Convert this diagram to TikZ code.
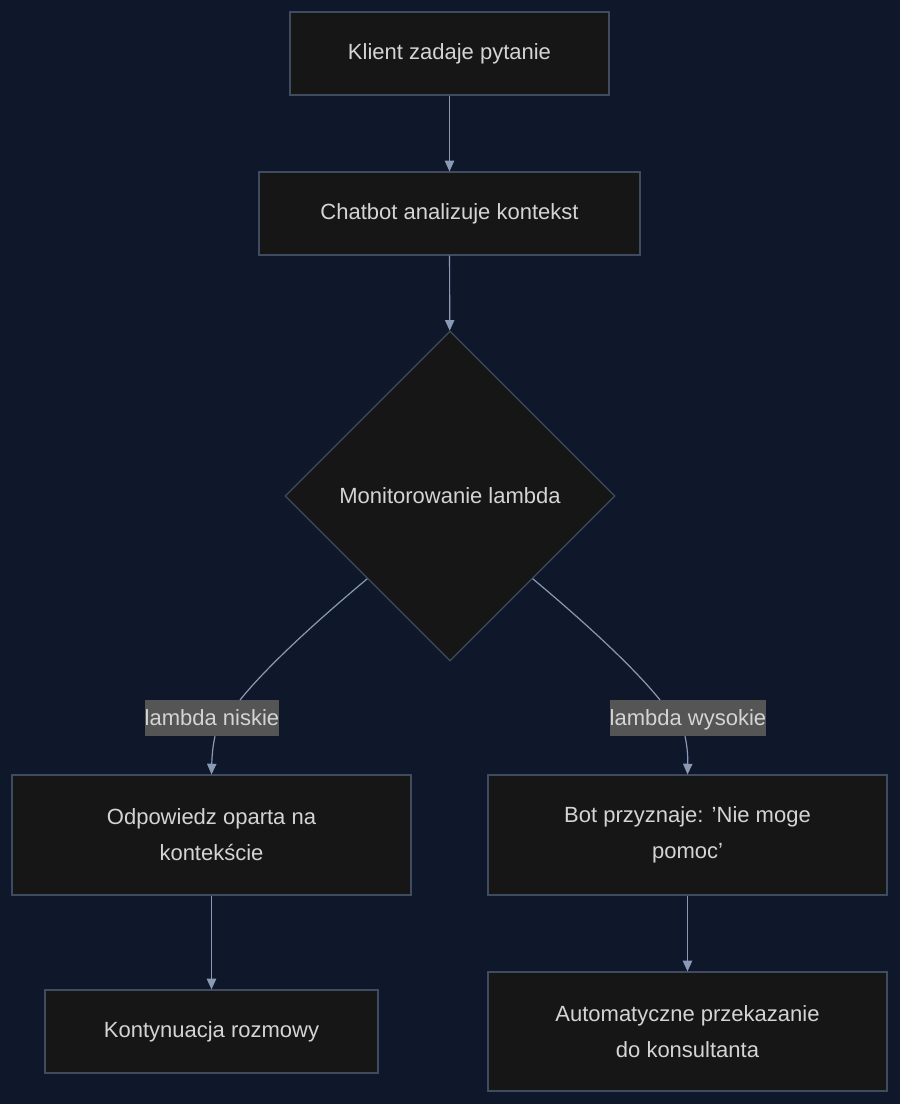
\documentclass[tikz,border=0pt]{standalone}
\usepackage{fontspec}
\setmainfont{Liberation Sans}
\usetikzlibrary{shapes.geometric,arrows.meta}
\definecolor{bgnavy}{HTML}{0F172A}
\definecolor{boxfill}{HTML}{161616}
\definecolor{boxline}{HTML}{3F4B5E}
\definecolor{txtgray}{HTML}{D4D4D4}
\definecolor{wire}{HTML}{8A9AB5}
\definecolor{tagfill}{HTML}{555555}
\tikzset{
  stage/.style={draw=boxline,fill=boxfill,text=txtgray,line width=0.9pt,
    font=\fontsize{16.5}{27}\selectfont,align=center,inner sep=0pt},
  check/.style={stage,diamond,aspect=1,minimum width=247.5pt,minimum height=247.5pt},
  tag/.style={fill=tagfill,text=txtgray,font=\fontsize{16.5}{20}\selectfont,
    inner sep=0pt,minimum height=27pt,text depth=0pt},
  wire/.style={draw=wire,line width=0.9pt,-{Triangle[length=8pt,width=7pt]}},
  bare/.style={draw=wire,line width=0.9pt}
}
\begin{document}
\begin{tikzpicture}[x=0.75pt,y=-0.75pt]
\fill[bgnavy] (0,0) rectangle (900,1104);
\useasboundingbox (0,0) rectangle (900,1104);
\node[stage,minimum width=239.25pt,minimum height=62.25pt] (ask) at (449.5,53.5) {Klient zadaje pytanie};
\node[stage,minimum width=285.75pt,minimum height=62.25pt] (ctx) at (449.5,213.5) {Chatbot analizuje kontekst};
\node[check] (mon) at (450,496) {Monitorowanie lambda};
\node[tag] (low) at (212,718) {lambda niskie};
\node[tag] (high) at (688,718) {lambda wysokie};
\node[stage,minimum width=299.25pt,minimum height=90pt] (ans) at (211.5,835) {Odpowiedz oparta na\\kontekście};
\node[stage,minimum width=299.25pt,minimum height=90pt] (cant) at (687.5,835) {Bot przyznaje: 'Nie moge\\pomoc'};
\node[stage,minimum width=249.75pt,minimum height=62.25pt] (cont) at (211.5,1031.5) {Kontynuacja rozmowy};
\node[stage,minimum width=299.25pt,minimum height=89.25pt] (hand) at (687.5,1031.5) {Automatyczne przekazanie\\do konsultanta};
% connectors
\draw[wire] (ask) -- (ctx);
\draw[wire] (ctx) -- (mon);
\draw[bare] (mon.south west) .. controls (300,635) and (260,675) .. (240,700);
\draw[bare] (mon.south east) .. controls (600,635) and (640,675) .. (660,700);
\draw[wire] (low.south) ++(3,0) .. controls (213,745) and (212,755) .. (ans.north);
\draw[wire] (high.south) ++(-3,0) .. controls (687,745) and (688,755) .. (cant.north);
\draw[wire] (ans) -- (cont);
\draw[wire] (cant) -- (hand);
\end{tikzpicture}
\end{document}
